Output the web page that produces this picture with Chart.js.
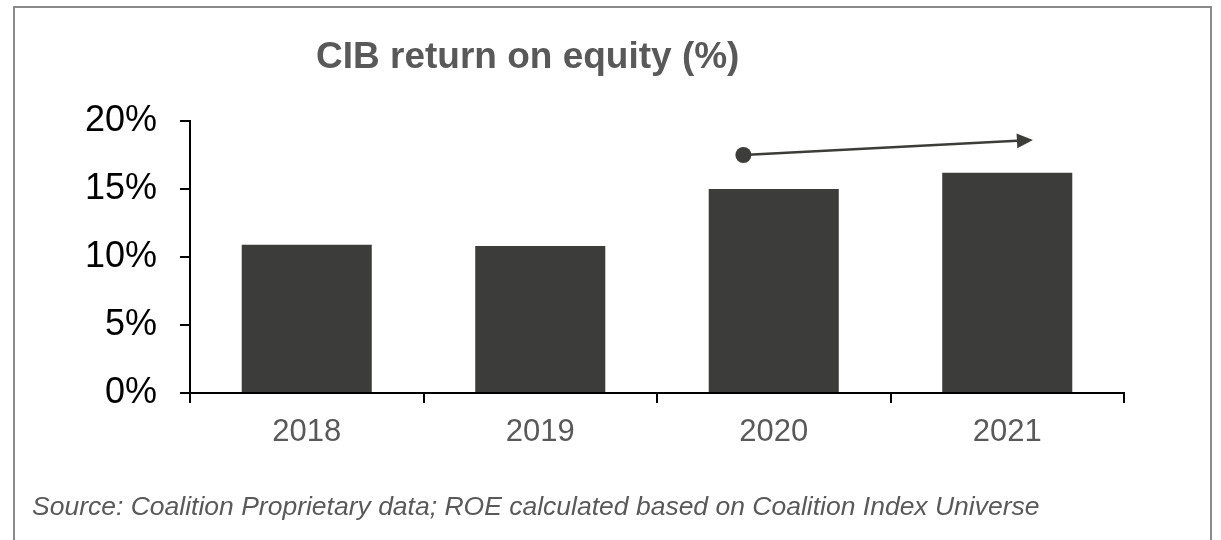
<!DOCTYPE html>
<html>
<head>
<meta charset="utf-8">
<script src="https://cdn.jsdelivr.net/npm/chart.js@4"></script>
<style>
    html, body { margin: 0; padding: 0; background: #fff; overflow: hidden; }
    body { width: 1221px; height: 540px; position: relative; font-family: "Liberation Sans", Arial, sans-serif; }
    #frame { position: absolute; left: 13px; top: 6px; width: 1199px; height: 600px; box-sizing: border-box; border: 2px solid #8a8a8a; }
    #wrap { position: absolute; left: 0; top: 0; width: 1221px; height: 540px; }
    #titolo { position: absolute; left: 316px; top: 37px; font-size: 37px; line-height: 37px; font-weight: bold; color: #595959; white-space: nowrap; }
    #fonte { position: absolute; left: 32px; top: 493px; font-size: 26.5px; line-height: 26.5px; font-style: italic; color: #595959; white-space: nowrap; }
</style>
</head>
<body>
<div id="frame"></div>
<div id="wrap"><canvas id="grafico"></canvas></div>
<div id="titolo">CIB return on equity (%)</div>
<div id="fonte">Source: Coalition Proprietary data; ROE calculated based on Coalition Index Universe</div>
<script>
// dati del grafico
const anni = ['2018', '2019', '2020', '2021'];
const roe = [10.9, 10.8, 15.0, 16.2];
const tickY = [0, 5, 10, 15, 20];

// freccia di tendenza (indice categoria, valore %)
const frecciaDa = [1.87, 17.5];
const frecciaA = [3.11, 18.6];

const coloreBarre = '#3c3c3b';

// disegna la freccia sopra le barre
const pluginFreccia = {
    id: 'freccia',
    afterDatasetsDraw(chart) {
        const ctx = chart.ctx;
        const x = chart.scales.x;
        const y = chart.scales.y;
        const x1 = x.getPixelForValue(frecciaDa[0]);
        const y1 = y.getPixelForValue(frecciaDa[1]);
        const x2 = x.getPixelForValue(frecciaA[0]);
        const y2 = y.getPixelForValue(frecciaA[1]);
        const ang = Math.atan2(y2 - y1, x2 - x1);
        const lung = 16, semi = 7.5;
        const bx = x2 - lung * Math.cos(ang);
        const by = y2 - lung * Math.sin(ang);

        ctx.save();
        ctx.strokeStyle = coloreBarre;
        ctx.fillStyle = coloreBarre;
        ctx.lineWidth = 2.5;
        ctx.beginPath();
        ctx.moveTo(x1, y1);
        ctx.lineTo(bx, by);
        ctx.stroke();

        ctx.beginPath();
        ctx.arc(x1, y1, 8, 0, Math.PI * 2);
        ctx.fill();

        ctx.beginPath();
        ctx.moveTo(x2, y2);
        ctx.lineTo(bx - semi * Math.sin(ang), by + semi * Math.cos(ang));
        ctx.lineTo(bx + semi * Math.sin(ang), by - semi * Math.cos(ang));
        ctx.closePath();
        ctx.fill();
        ctx.restore();
    }
};

new Chart(document.getElementById('grafico').getContext('2d'), {
    type: 'bar',
    data: {
        labels: anni,
        datasets: [{
            data: roe,
            backgroundColor: coloreBarre,
            borderWidth: 0,
            categoryPercentage: 1,
            barPercentage: 0.557
        }]
    },
    options: {
        responsive: true,
        maintainAspectRatio: false,
        animation: false,
        layout: { padding: { left: 0, top: 121, right: 97, bottom: 0 } },
        plugins: {
            legend: { display: false },
            tooltip: { enabled: false }
        },
        scales: {
            x: {
                grid: { drawOnChartArea: false, drawTicks: true, tickLength: 10, color: '#000', lineWidth: 2 },
                border: { display: true, color: '#000', width: 2 },
                ticks: {
                    color: '#595959',
                    padding: 11,
                    font: { family: '"Liberation Sans", Arial, sans-serif', size: 31 }
                },
                afterFit: function (scale) { scale.height = 147; }
            },
            y: {
                min: 0,
                max: 20,
                afterBuildTicks: function (scale) { scale.ticks = tickY.map(v => ({ value: v })); },
                grid: { drawOnChartArea: false, drawTicks: true, tickLength: 10, color: '#000', lineWidth: 2 },
                border: { display: true, color: '#000', width: 2 },
                ticks: {
                    color: '#000',
                    padding: 23,
                    font: { family: '"Liberation Sans", Arial, sans-serif', size: 36 },
                    callback: v => v + '%'
                },
                afterFit: function (scale) { scale.width = 190; }
            }
        }
    },
    plugins: [pluginFreccia]
});
</script>
</body>
</html>
